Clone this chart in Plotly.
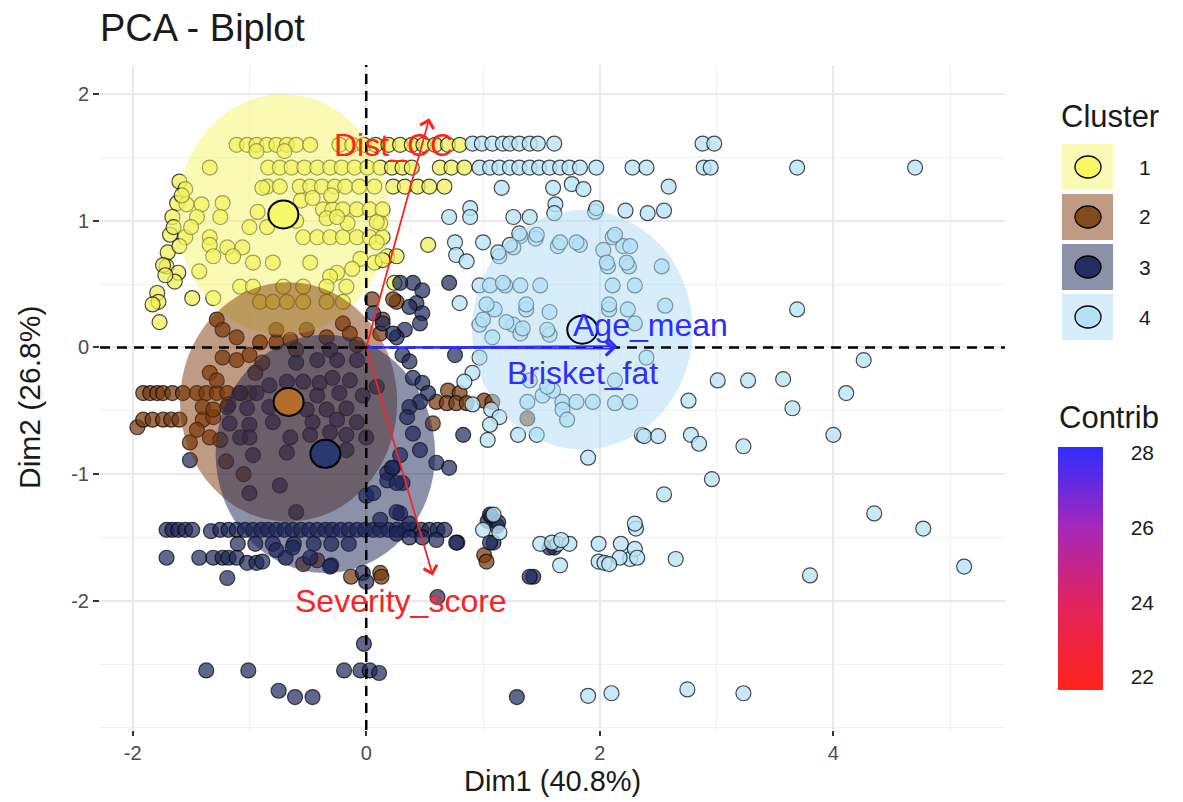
import plotly.graph_objects as go
from plotly.colors import sample_colorscale

# ---------------- data ----------------
c1_pts = [
    (-1.11, 1.60), (-1.02, 1.60), (-0.94, 1.60), (-0.85, 1.60), (-0.77, 1.60), (-0.68, 1.60), (-0.60, 1.60),
    (-0.48, 1.60), (-0.23, 1.60), (-0.12, 1.60), (-0.02, 1.60), (0.08, 1.60), (0.19, 1.60), (0.29, 1.60),
    (0.39, 1.60), (0.49, 1.60), (0.59, 1.60), (0.70, 1.60), (0.80, 1.60), (-0.94, 1.55), (-0.70, 1.55),
    (-1.34, 1.42), (-0.84, 1.42), (-0.74, 1.42), (-0.64, 1.42), (-0.53, 1.42), (-0.42, 1.42), (-0.31, 1.42),
    (-0.21, 1.42), (-0.10, 1.42), (0.01, 1.42), (0.12, 1.42), (0.22, 1.42), (0.31, 1.42), (0.39, 1.42),
    (0.63, 1.42), (0.73, 1.42), (0.84, 1.42),
    (-0.85, 1.27), (-0.74, 1.27), (-0.57, 1.27), (-0.48, 1.27), (-0.38, 1.27), (-0.27, 1.27), (-0.18, 1.27),
    (-0.06, 1.27), (0.07, 1.27), (0.23, 1.27), (0.33, 1.27), (0.44, 1.27), (0.54, 1.27), (0.67, 1.27),
    (-1.60, 1.31), (-1.55, 1.25), (-1.62, 1.14), (-1.54, 1.13), (-1.41, 1.13), (-1.23, 1.14), (-1.66, 1.03),
    (-1.45, 1.03), (-1.25, 1.03), (-1.68, 0.89), (-1.55, 0.87), (-1.34, 0.87), (-1.70, 0.75), (-1.71, 0.64),
    (-1.61, 0.59), (-1.64, 0.52), (-1.79, 0.43), (-1.78, 0.36), (-1.83, 0.34), (-1.77, 0.20), (-1.49, 0.39),
    (-1.31, 0.39), (-1.43, 0.60), (-1.34, 0.81), (-1.19, 0.79), (-1.06, 0.79), (-1.31, 0.72), (-1.14, 0.72),
    (-0.97, 0.67), (-0.80, 0.67), (-0.93, 1.07), (-0.89, 1.26), (-1.74, 0.65), (-1.72, 0.57), (-1.58, 1.20),
    (-1.65, 0.95), (-1.60, 0.80), (-1.50, 0.95),
    (-0.37, 1.09), (-0.29, 1.09), (-0.20, 1.09), (-0.08, 1.09), (0.03, 1.09), (0.14, 1.09), (-0.54, 0.87),
    (-0.42, 0.87), (-0.31, 0.87), (-0.20, 0.87), (-0.08, 0.87), (0.03, 0.87), (0.14, 0.87), (0.09, 0.83),
    (0.53, 0.81), (0.12, 0.98), (0.18, 0.72), (0.26, 0.72), (0.24, 0.51), (-0.48, 0.67), (-0.25, 0.59),
    (-0.31, 0.56), (-1.08, 0.48), (-0.97, 0.48), (-0.71, 0.48), (-0.54, 0.48), (-0.34, 0.48), (-0.17, 0.48),
    (-0.91, 0.36), (-0.80, 0.36), (-0.68, 0.36), (-0.54, 0.36), (-0.34, 0.36), (-0.20, 0.36), (-0.56, 1.16),
    (-0.46, 1.18), (-0.30, 1.20), (-0.16, 0.98), (-0.60, 1.00), (-0.05, 0.70), (-0.12, 0.62), (0.07, 0.67),
    (0.14, 0.69), (-0.85, 0.95), (-1.00, 0.95), (0.09, 0.99), (-0.34, 1.02), (-0.25, 1.03),
]

c2_pts = [
    (-1.91, -0.36), (-1.85, -0.36), (-1.79, -0.36), (-1.74, -0.36), (-1.66, -0.36), (-1.57, -0.36),
    (-1.45, -0.36), (-1.37, -0.36), (-1.28, -0.36), (-1.19, -0.36), (-1.08, -0.36), (-1.00, -0.36),
    (-1.96, -0.63), (-1.91, -0.57), (-1.83, -0.57), (-1.74, -0.57), (-1.67, -0.57), (-1.60, -0.57),
    (-1.40, -0.57), (-1.31, -0.55),
    (-1.34, -0.20), (-1.28, -0.26), (-1.23, -0.08), (-1.11, -0.10), (-1.00, -0.06), (-0.89, -0.12),
    (-0.77, 0.04), (-1.40, -0.47), (-1.31, -0.49), (-1.34, -0.71), (-1.51, -0.75), (-1.45, -0.65),
    (-1.25, -0.73),
    (-1.28, 0.22), (-1.23, 0.14), (-1.11, 0.08), (-0.91, 0.04), (-0.77, 0.14), (-0.65, 0.06), (-0.51, 0.14),
    (-0.34, 0.08), (-0.20, 0.19), (-0.14, 0.11), (-0.08, 0.02),
    (0.70, -0.34), (0.80, -0.36), (0.60, -0.43), (0.69, -0.44), (0.77, -0.44), (0.86, -0.44), (1.01, -0.42),
    (1.08, -0.43), (0.57, -0.60), (1.01, -1.64), (1.03, -1.69), (0.12, -1.78), (-0.13, -1.81), (0.13, -1.81),
    (0.26, 0.36), (0.14, 0.22), (0.12, 0.11), (0.05, 0.38), (0.23, 0.38), (1.38, -0.56), (-0.42, -1.68),
    (-0.54, -1.71), (-0.95, -0.20), (-0.60, -0.02), (-1.18, -0.45), (-1.20, -0.90), (-1.05, -1.00),
]

c3_pts = [
    (-1.71, -1.44), (-1.66, -1.44), (-1.61, -1.44), (-1.55, -1.44), (-1.49, -1.44), (-1.33, -1.45),
    (-1.25, -1.44), (-1.18, -1.44), (-1.11, -1.44), (-1.04, -1.44), (-0.97, -1.44), (-0.90, -1.44),
    (-0.84, -1.44), (-0.77, -1.44), (-0.70, -1.44), (-0.63, -1.44), (-0.56, -1.44), (-0.49, -1.44),
    (-0.42, -1.44), (-0.35, -1.44), (-0.29, -1.44), (-0.22, -1.44), (-0.15, -1.44), (-0.08, -1.44),
    (-0.01, -1.44), (0.06, -1.44), (0.12, -1.44), (0.19, -1.44), (0.26, -1.44), (0.33, -1.44), (0.40, -1.44),
    (0.47, -1.44), (0.54, -1.44), (0.61, -1.44), (0.67, -1.44),
    (-1.10, -1.55), (-0.95, -1.55), (-0.80, -1.55), (-0.62, -1.55), (-0.45, -1.55), (-0.30, -1.55),
    (-0.15, -1.55), (0.78, -1.54), (1.09, -1.54),
    (-1.71, -1.66), (-1.43, -1.66), (-1.31, -1.66), (-1.23, -1.66), (-1.18, -1.66), (-1.11, -1.66),
    (-1.02, -1.70), (-0.94, -1.70), (-0.89, -1.69), (-0.69, -1.66), (-0.30, -1.72), (-0.48, -1.66),
    (-0.31, -1.73), (-0.03, -1.78), (-0.77, -1.60), (-0.63, -1.58),
    (-1.19, -1.82), (0.29, -1.31), (1.43, -1.81), (0.61, -1.97), (0.00, -1.85), (-0.02, -2.34), (-1.37, -2.55),
    (-1.01, -2.55), (-0.19, -2.55), (-0.05, -2.55), (0.03, -2.55), (0.11, -2.57), (-0.75, -2.71), (-0.61, -2.76),
    (-0.46, -2.76), (1.29, -2.76), (1.04, -1.37), (1.12, -1.41), (1.07, -1.33), (1.61, -1.58),
    (-0.83, -0.30), (-0.68, -0.27), (-0.54, -0.27), (-0.40, -0.28), (-0.29, -0.24), (-0.14, -0.26),
    (-1.08, -0.36), (-0.94, -0.36), (-0.42, -0.38), (-0.23, -0.36), (-0.03, -0.38), (0.09, -0.31),
    (-1.19, -0.47), (-1.02, -0.48), (-0.83, -0.47), (-0.51, -0.49), (-0.34, -0.49), (-0.17, -0.48),
    (-1.17, -0.60), (-1.00, -0.61), (-0.80, -0.59), (-0.46, -0.59), (-0.25, -0.57), (-0.08, -0.59),
    (-1.08, -0.71), (-1.00, -0.71), (-0.65, -0.71), (-0.48, -0.69), (-0.31, -0.67), (-0.17, -0.69),
    (0.00, -0.71), (-0.97, -0.85), (-0.68, -0.83), (-0.17, -0.81), (-1.00, -1.15), (-0.74, -1.09),
    (-0.60, -1.30), (0.00, -1.17), (0.18, -0.99), (0.23, -0.95), (0.31, -1.07), (-1.51, -0.89),
    (-0.42, -0.10), (-0.25, -0.10), (-0.08, -0.10), (-0.60, -0.12), (-0.31, -0.02),
    (0.40, 0.51), (0.48, 0.45), (0.71, 0.51), (0.43, 0.35), (0.48, 0.27), (0.46, 0.19), (0.33, 0.14),
    (0.26, 0.08), (0.14, 0.19), (0.06, 0.27), (0.29, 0.51), (0.37, 0.32), (0.23, 0.11), (0.31, -0.06),
    (0.37, -0.11), (0.76, -0.06), (0.40, -0.24), (0.48, -0.28), (0.53, -0.36), (0.46, -0.43), (0.37, -0.47),
    (0.35, -0.55), (0.40, -0.68), (0.83, -0.69), (0.46, -0.81), (0.60, -0.91), (0.71, -0.95), (0.29, -0.85),
    (0.22, -0.95), (0.18, -1.05), (0.26, -1.07), (0.06, -1.15), (0.26, -1.30), (0.12, -1.36), (0.37, -1.39),
    (0.26, -1.47), (0.37, -1.50), (0.48, -1.50), (0.60, -1.52), (0.77, -1.54), (1.06, -1.32), (1.13, -1.38),
    (1.06, -1.54), (1.40, -1.81), (1.57, -1.58),
]

c4_pts = [
    (0.91, 1.61), (0.99, 1.61), (1.08, 1.61), (1.17, 1.61), (1.23, 1.61), (1.31, 1.61), (1.40, 1.61),
    (1.47, 1.61), (1.61, 1.61), (2.88, 1.61), (2.98, 1.61),
    (0.97, 1.42), (1.06, 1.42), (1.14, 1.42), (1.23, 1.42), (1.31, 1.42), (1.40, 1.42), (1.48, 1.42),
    (1.57, 1.42), (1.66, 1.42), (1.74, 1.42), (1.83, 1.42), (1.97, 1.42), (2.28, 1.42), (2.40, 1.42),
    (2.89, 1.42), (2.95, 1.42), (3.69, 1.42), (4.70, 1.42),
    (1.16, 1.26), (1.60, 1.26), (1.76, 1.29), (1.86, 1.25), (2.59, 1.27), (1.62, 1.13), (1.61, 1.06),
    (1.26, 1.03), (1.40, 1.03), (1.96, 1.07), (2.22, 1.08), (2.41, 1.06), (2.55, 1.08), (1.32, 0.88),
    (1.45, 0.86), (1.26, 0.79), (1.64, 0.80), (1.83, 0.81), (2.11, 0.87), (2.03, 0.77), (2.20, 0.80),
    (2.26, 0.80), (1.14, 0.72), (2.53, 0.64), (2.07, 0.64), (2.25, 0.64), (0.97, 0.49), (1.06, 0.49),
    (1.19, 0.49), (1.32, 0.49), (1.49, 0.49), (2.11, 0.49), (2.30, 0.49), (1.10, 0.30), (1.37, 0.30),
    (1.57, 0.28), (2.08, 0.30), (2.24, 0.30), (2.56, 0.33), (3.69, 0.30), (0.97, 0.18), (1.26, 0.18),
    (1.32, 0.11), (1.57, 0.10), (2.30, 0.19), (2.40, -0.08), (4.26, -0.10),
    (0.71, 1.03), (0.89, 1.10), (0.89, 1.03), (1.97, 1.10), (0.76, 0.83), (1.00, 0.83), (0.77, 0.73),
    (0.86, 0.68), (1.31, 0.90), (1.46, 0.89), (1.23, 0.81), (1.13, 0.75), (1.66, 0.83), (1.80, 0.83),
    (2.13, 0.89), (2.06, 0.67), (2.23, 0.67), (1.17, 0.51), (0.80, 0.35), (1.03, 0.34), (1.37, 0.34),
    (2.08, 0.34), (1.00, 0.22), (1.20, 0.20), (1.34, 0.15), (1.55, 0.14), (1.08, 0.08),
    (0.97, -0.08), (0.91, -0.20), (0.84, -0.27), (0.91, -0.45), (1.07, -0.49), (1.14, -0.55), (1.06, -0.61),
    (1.04, -0.73), (1.30, -0.69), (1.46, -0.69), (1.38, -0.43), (1.51, -0.38), (1.60, -0.34), (1.68, -0.43),
    (1.68, -0.49), (1.72, -0.57), (1.80, -0.43), (1.94, -0.43), (2.13, -0.44), (2.26, -0.43), (1.40, -0.26),
    (1.55, -0.31), (2.13, -0.26), (1.90, -0.87), (2.36, -0.69),
    (3.01, -0.26), (3.27, -0.26), (3.57, -0.25), (4.11, -0.36), (2.76, -0.42), (3.65, -0.48), (4.00, -0.69),
    (2.38, -0.70), (2.50, -0.70), (2.78, -0.69), (2.85, -0.76), (3.23, -0.78), (2.96, -1.04), (2.55, -1.16),
    (4.35, -1.31), (4.77, -1.43), (2.31, -1.43), (5.12, -1.73), (3.80, -1.80), (2.65, -1.67),
    (1.49, -1.55), (1.64, -1.55), (1.74, -1.55), (1.66, -1.72), (1.99, -1.55), (2.18, -1.55), (1.99, -1.69),
    (2.26, -1.67), (2.30, -1.59), (1.00, -1.44), (1.14, -1.46), (1.59, -1.54), (1.67, -1.52), (2.30, -1.39),
    (2.04, -1.70), (2.17, -1.66), (1.09, -1.32), (2.08, -1.71), (2.32, -1.66),
    (1.90, -2.75), (2.10, -2.73), (2.75, -2.70), (3.23, -2.73),
]

cluster_labels = ["1", "2", "3", "4"]
centroid_x = [-0.71, -0.665, -0.35, 1.85]
centroid_y = [1.05, -0.43, -0.84, 0.14]
ellipse_rx = [0.91, 0.93, 0.94, 0.945]
ellipse_ry = [0.95, 0.945, 0.94, 0.945]

var_names = ["Dist_CC", "Severity_score", "Age_mean", "Brisket_fat"]
var_x = [0.54, 0.57, 2.15, 2.13]
var_y = [1.81, -1.80, 0.01, -0.01]
var_contrib = [21.65, 22.10, 28.16, 28.09]
label_x = [0.23, 0.30, 2.43, 1.85]
label_y = [1.60, -2.00, 0.18, -0.20]

x_ticks = [-2, 0, 2, 4]
x_tick_text = ["-2", "0", "2", "4"]
y_ticks = [-2, -1, 0, 1, 2]
y_tick_text = ["-2", "-1", "0", "1", "2"]
contrib_ticks = [22, 24, 26, 28]

# ---------------- styles ----------------
FONT = "Liberation Sans, Arial, sans-serif"
TXT = "#1a1a1a"
point_fill = ["rgba(240,240,85,0.72)", "rgba(118,58,14,0.72)", "rgba(28,38,88,0.7)", "rgba(185,228,247,0.8)"]
ellipse_fill = ["rgba(245,245,105,0.5)", "rgba(125,55,5,0.5)", "rgba(25,35,85,0.5)", "rgba(175,221,245,0.5)"]
centroid_fill = ["rgb(248,248,105)", "rgb(180,108,45)", "rgb(40,58,112)", "rgb(205,235,250)"]
key_fill = ["rgb(248,248,100)", "rgb(130,75,30)", "rgb(35,45,95)", "rgb(180,225,245)"]
key_box = ["rgb(250,250,180)", "rgb(190,155,130)", "rgb(140,145,170)", "rgb(215,238,250)"]
contrib_scale = [[0.0, "rgb(255,35,25)"], [0.36, "rgb(225,35,95)"],
                 [0.67, "rgb(165,40,185)"], [1.0, "rgb(45,45,255)"]]

# page layout (body margin removed by the post script, so figure pixels = page pixels)
W, H = 1183, 802
L, R, T, B = 100, 1005, 65, 730          # plot area in pixels
def px(xp):
    return (xp - L) / (R - L)
def py(yp):
    return (B - yp) / (B - T)

fig = go.Figure()

for pts, fill in zip([c1_pts, c2_pts, c3_pts, c4_pts], point_fill):
    fig.add_trace(go.Scatter(
        x=[p[0] for p in pts], y=[p[1] for p in pts], mode="markers",
        marker=dict(size=15, color=fill, line=dict(color="rgba(0,0,0,0.7)", width=1.2)),
        hoverinfo="skip", showlegend=False))

# invisible trace carrying the contribution colour bar
cbar = dict(x=px(1058), xanchor="left", xpad=0, y=py(568.5), yanchor="middle", ypad=0,
            len=243, lenmode="pixels", thickness=45, thicknessmode="pixels",
            outlinewidth=0, tickvals=contrib_ticks, ticks="outside", ticklen=24,
            tickcolor="rgba(255,255,255,0)", tickwidth=1,
            tickfont=dict(size=21, color=TXT, family=FONT))
fig.add_trace(go.Scatter(
    x=var_x, y=var_y, mode="markers", hoverinfo="skip", showlegend=False,
    marker=dict(size=1, opacity=0, color=var_contrib, colorscale=contrib_scale, showscale=True,
                colorbar=cbar)))

shapes = []
for cx, cy, rx, ry, fc in zip(centroid_x, centroid_y, ellipse_rx, ellipse_ry, ellipse_fill):
    shapes.append(dict(type="circle", xref="x", yref="y", x0=cx - rx, x1=cx + rx, y0=cy - ry, y1=cy + ry,
                       fillcolor=fc, line=dict(width=0), layer="above"))
shapes.append(dict(type="line", xref="paper", yref="y", x0=0, x1=1, y0=0, y1=0,
                   line=dict(color="black", width=2.5, dash="10px,7px"), layer="above"))
shapes.append(dict(type="line", xref="x", yref="paper", x0=0, x1=0, y0=0, y1=1,
                   line=dict(color="black", width=2.5, dash="10px,7px"), layer="above"))
for cx, cy, fc in zip(centroid_x, centroid_y, centroid_fill):
    shapes.append(dict(type="circle", xref="x", yref="y", xsizemode="pixel", ysizemode="pixel",
                       xanchor=cx, yanchor=cy, x0=-15, x1=15, y0=-14, y1=14,
                       fillcolor=fc, line=dict(color="black", width=2), layer="above"))

annotations = []
cmin, cmax = min(var_contrib), max(var_contrib)
for name, vx, vy, c, lx, ly in zip(var_names, var_x, var_y, var_contrib, label_x, label_y):
    col = sample_colorscale(contrib_scale, [(c - cmin) / (cmax - cmin)])[0]
    annotations.append(dict(x=vx, y=vy, ax=0, ay=0, xref="x", yref="y", axref="x", ayref="y",
                            text="", showarrow=True, arrowhead=4, arrowsize=1.5, arrowwidth=1.8,
                            arrowcolor=col, standoff=0))
    annotations.append(dict(x=lx, y=ly, xref="x", yref="y", text=name, showarrow=False,
                            xanchor="center", yanchor="middle",
                            font=dict(size=32, color=col, family=FONT)))

# axis titles
annotations.append(dict(x=0.5, y=py(781), xref="paper", yref="paper", text="Dim1 (40.8%)",
                        xanchor="center", yanchor="middle",
                        showarrow=False, font=dict(size=29, color=TXT, family=FONT)))
annotations.append(dict(x=px(30), y=py(398), xref="paper", yref="paper", text="Dim2 (26.8%)",
                        xanchor="center", yanchor="middle",
                        textangle=-90, showarrow=False, font=dict(size=30, color=TXT, family=FONT)))

# cluster legend and colour-bar title
annotations.append(dict(x=px(1059), y=py(117), xref="paper", yref="paper", text="Cluster",
                        xanchor="left", yanchor="middle",
                        showarrow=False, font=dict(size=31, color=TXT, family=FONT)))
annotations.append(dict(x=px(1057), y=py(417), xref="paper", yref="paper", text="Contrib",
                        xanchor="left", yanchor="middle",
                        showarrow=False, font=dict(size=31, color=TXT, family=FONT)))
for i, lab in enumerate(cluster_labels):
    cyp = 167 + 50 * i
    shapes.append(dict(type="rect", xref="paper", yref="paper", x0=px(1062), x1=px(1113),
                       y0=py(cyp + 23), y1=py(cyp - 23), fillcolor=key_box[i], line=dict(width=0)))
    shapes.append(dict(type="circle", xref="paper", yref="paper", x0=px(1075), x1=px(1101),
                       y0=py(cyp + 11), y1=py(cyp - 11), fillcolor=key_fill[i],
                       line=dict(color="black", width=1.3)))
    annotations.append(dict(x=px(1145), y=py(cyp), xref="paper", yref="paper", text=lab,
                            xanchor="center", yanchor="middle",
                            showarrow=False, font=dict(size=21, color=TXT, family=FONT)))

fig.update_layout(
    width=W, height=H, autosize=False,
    margin=dict(l=L, r=W - R, t=T, b=H - B, pad=0),
    paper_bgcolor="white", plot_bgcolor="white",
    title=dict(text="PCA - Biplot", x=100 / W, xanchor="left", xref="container",
               y=1 - 28 / H, yanchor="middle", yref="container",
               font=dict(size=38, color=TXT, family=FONT)),
    shapes=shapes, annotations=annotations, showlegend=False,
    xaxis=dict(range=[-2.28, 5.47], tickvals=x_ticks, ticktext=x_tick_text,
               showgrid=True, gridcolor="#E9E9E9", gridwidth=1.6,
               minor=dict(dtick=1, tick0=0, showgrid=True, gridcolor="#F1F1F1", gridwidth=1.2),
               zeroline=False, showline=False, ticks="outside", ticklen=5, tickwidth=2, tickcolor="#333333",
               automargin=False, tickfont=dict(size=20, color="#4D4D4D", family=FONT)),
    yaxis=dict(range=[-3.02, 2.23], tickvals=y_ticks, ticktext=y_tick_text,
               showgrid=True, gridcolor="#E9E9E9", gridwidth=1.6,
               minor=dict(dtick=0.5, tick0=0, showgrid=True, gridcolor="#F1F1F1", gridwidth=1.2),
               zeroline=False, showline=False, ticks="outside", ticklen=6, tickwidth=2, tickcolor="#333333",
               automargin=False, tickfont=dict(size=20, color="#4D4D4D", family=FONT)),
)

fig.write_html("out.html", config={"displayModeBar": False},
               post_script="document.body.style.margin='0';")
